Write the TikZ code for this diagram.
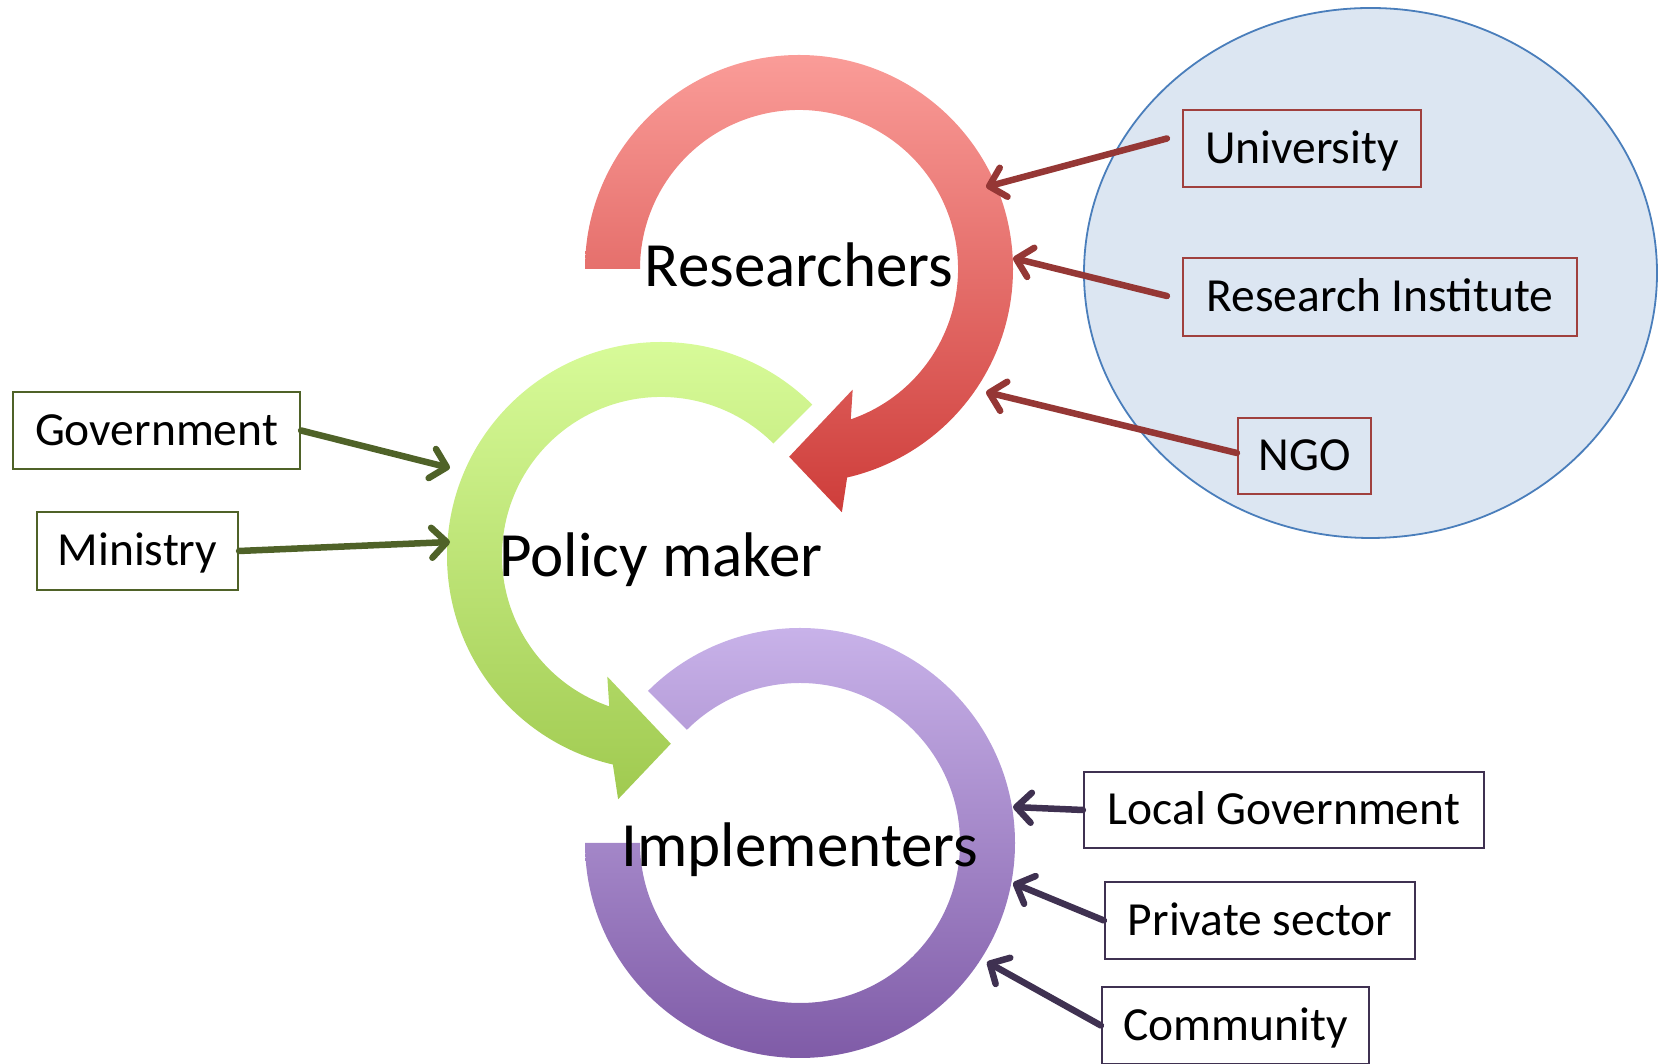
\documentclass[tikz,border=0pt]{standalone}
\usepackage{fontspec}
\setmainfont{Carlito}
\usetikzlibrary{arrows.meta,calc,shapes.geometric}
\definecolor{redtop}{RGB}{250,156,152}
\definecolor{redbot}{RGB}{206,61,58}
\definecolor{greentop}{RGB}{218,253,156}
\definecolor{greenbot}{RGB}{160,202,80}
\definecolor{purptop}{RGB}{200,178,233}
\definecolor{purpbot}{RGB}{127,91,167}
\definecolor{redline}{RGB}{149,55,53}
\definecolor{redborder}{RGB}{160,64,62}
\definecolor{greenline}{RGB}{79,98,40}
\definecolor{purpline}{RGB}{63,49,81}
\definecolor{ellfill}{RGB}{220,230,242}
\definecolor{elldraw}{RGB}{74,126,187}
\begin{document}
\begin{tikzpicture}[x=1pt,y=1pt,
  boxtext/.style={font=\fontsize{47.5}{57}\selectfont, text height=30pt, text depth=0pt,
    inner sep=0pt, line width=2.2pt, align=center},
  redbox/.style={boxtext, draw=redborder},
  greenbox/.style={boxtext, draw=greenline},
  purpbox/.style={boxtext, draw=purpline},
  bigtext/.style={font=\fontsize{63}{75}\selectfont, inner sep=0pt, anchor=base},
  conn/.style={line width=6.5pt, line cap=round, -{Straight Barb[length=15pt,width=30pt,round]}},
  redarr/.style={conn, draw=redline},
  greenarr/.style={conn, draw=greenline},
  purparr/.style={conn, draw=purpline},
]
\useasboundingbox (0,0) rectangle (1660,1064);

% group ellipse
\node (grp) [ellipse, draw=elldraw, fill=ellfill, line width=1.8pt,
  minimum width=573pt, minimum height=530pt, inner sep=0pt] at (1370.5,791) {};

% ring centres
\coordinate (rc) at (799,795);
\coordinate (gc) at (661,508);
\coordinate (pc) at (800,221);

% green circular arrow
\path[top color=greentop, bottom color=greenbot]
  ($(gc)+(45:214)$) arc[start angle=45, end angle=257, radius=214]
  -- ($(gc)+(260:247)$) -- ($(gc)+(273:188)$) -- ($(gc)+(246:132)$)
  -- ($(gc)+(251:159)$) arc[start angle=251, end angle=45, radius=159] -- cycle;

% red circular arrow
\path[top color=redtop, bottom color=redbot]
  ($(rc)+(180:214)$) arc[start angle=180, end angle=-77, radius=214]
  -- ($(rc)+(-80:247)$) -- ($(rc)+(-93:188)$) -- ($(rc)+(-66:132)$)
  -- ($(rc)+(-71:159)$) arc[start angle=-71, end angle=180, radius=159] -- cycle;

% purple ring
\path[top color=purptop, bottom color=purpbot]
  ($(pc)+(180:215)$) arc[start angle=180, end angle=495, radius=215]
  -- ($(pc)+(135:160)$) arc[start angle=495, end angle=180, radius=160] -- cycle;

% main labels
\node[bigtext] (res) at (799,777) {Researchers};
\node[bigtext] (pol) at (661,487) {Policy maker};
\node[bigtext] (imp) at (800,197) {Implementers};

% boxes
\node[redbox, minimum width=238pt, minimum height=77pt] (uni) at (1302,915.5) {University};
\node[redbox, minimum width=394pt, minimum height=78pt] (ri) at (1380,767) {Research Institute};
\node[redbox, minimum width=133pt, minimum height=76pt] (ngo) at (1304.5,608) {NGO};
\node[greenbox, minimum width=287pt, minimum height=77pt] (gov) at (156.5,633.5) {Government};
\node[greenbox, minimum width=201pt, minimum height=78pt] (min) at (137.5,513) {Ministry};
\node[purpbox, minimum width=400pt, minimum height=76pt] (lg) at (1284,254) {Local Government};
\node[purpbox, minimum width=310pt, minimum height=77pt] (priv) at (1260,143.5) {Private sector};
\node[purpbox, minimum width=267pt, minimum height=77pt] (com) at (1235.5,38.5) {Community};

% arrow targets on the rings
\coordinate (tUni) at (986,877);
\coordinate (tRI) at (1013,806);
\coordinate (tNGO) at (986,672);
\coordinate (tGov) at (450,596);
\coordinate (tMin) at (450,522);
\coordinate (tLG) at (1013,257);
\coordinate (tPriv) at (1013,181);
\coordinate (tCom) at (987,102);

% connectors
\draw[redarr] ([xshift=-15pt,yshift=10pt]uni.west) -- (tUni);
\draw[redarr] ([xshift=-15pt,yshift=1pt]ri.west) -- (tRI);
\draw[redarr] ([yshift=3pt]ngo.west) -- (tNGO);
\draw[greenarr] (gov.east) -- (tGov);
\draw[greenarr] (min.east) -- (tMin);
\draw[purparr] (lg.west) -- (tLG);
\draw[purparr] (priv.west) -- (tPriv);
\draw[purparr] (com.west) -- (tCom);
\end{tikzpicture}
\end{document}
